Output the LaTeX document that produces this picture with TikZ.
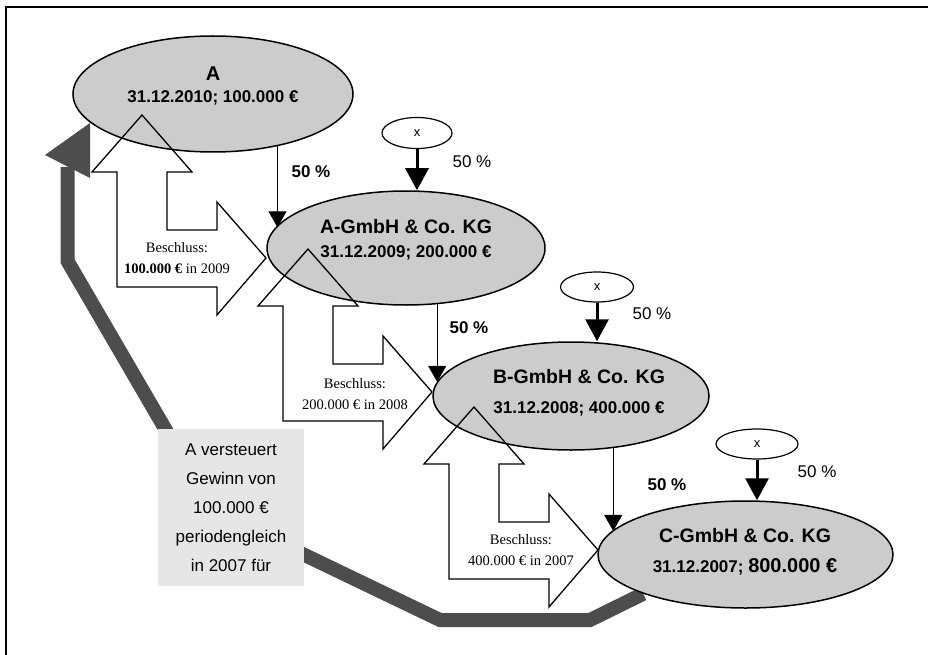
\documentclass[tikz,border=0pt]{standalone}
\usepackage{fontspec}
\setmainfont{Liberation Sans}
\newfontfamily\timesfont{Liberation Serif}
\usepackage{tikz}
\usetikzlibrary{arrows.meta,shapes.geometric,backgrounds}
\definecolor{firmfill}{RGB}{204,204,204}
\definecolor{notefill}{RGB}{230,230,230}
\definecolor{feedbackgray}{RGB}{77,77,77}

\begin{document}
\begin{tikzpicture}[x=1pt, y=-1pt,
  firm/.style={ellipse, draw, fill=firmfill, line width=1.5pt, inner sep=0pt},
  firmtext/.style={align=center, font=\fontsize{17}{#1}\selectfont\bfseries},
  holder/.style={ellipse, draw, fill=white, line width=1.2pt, inner sep=0pt, font=\fontsize{13}{13}\selectfont},
  stake/.style={-{Triangle[width=23pt,length=22pt]}, line width=3pt},
  holding/.style={-{Triangle[width=18pt,length=16pt]}, line width=1pt},
  pctbold/.style={font=\fontsize{17}{17}\selectfont\bfseries},
  pct/.style={font=\fontsize{17}{17}\selectfont},
  decision/.style={draw, line width=1.3pt, line join=miter},
  decisiontext/.style={align=center, font=\timesfont\fontsize{14.5}{21}\selectfont},
  note/.style={fill=notefill, inner sep=0pt, minimum width=146pt, minimum height=157pt, align=center, font=\fontsize{17}{29}\selectfont},
  feedback/.style={draw=feedbackgray, line width=14pt, line join=miter}]

  % Page size and frame
  \useasboundingbox (0,0) rectangle (928,655);
  \draw[line width=2pt] (6,655) -- (6,7) -- (928,7);

  % Companies
  \node[firm, minimum width=280pt, minimum height=116pt] (A) at (213,94) {};
  \node[firm, minimum width=278pt, minimum height=114pt] (AG) at (406,248) {};
  \node[firm, minimum width=276pt, minimum height=108pt] (B) at (571,396) {};
  \node[firm, minimum width=295pt, minimum height=107pt] (C) at (745.5,554.5) {};

  \node[firmtext=22] (A-text) at (213,86) {{\fontsize{20}{20}\selectfont A}\\31.12.2010; 100.000 €};
  \node[firmtext=24] (AG-text) at (406,240) {{\fontsize{19.5}{20}\selectfont A-GmbH \& Co. KG}\\31.12.2009; 200.000 €};
  \node[firmtext=30] (B-text) at (579,393) {{\fontsize{19.5}{20}\selectfont B-GmbH \& Co. KG}\\31.12.2008; 400.000 €};
  \node[firmtext=30] (C-text) at (745,552) {{\fontsize{19.5}{20}\selectfont C-GmbH \& Co. KG}\\31.12.2007; {\fontsize{20}{20}\selectfont 800.000 €}};

  % Other partners
  \node[holder, minimum width=70pt, minimum height=31pt] (x1) at (417,133) {x};
  \node[holder, minimum width=73pt, minimum height=30pt] (x2) at (597,287) {x};
  \node[holder, minimum width=82pt, minimum height=30pt] (x3) at (757,444) {x};

  \draw[stake] (x1.south) -- (x1.south |- AG.north);
  \draw[stake] (x2.south) -- (x2.south |- B.north);
  \draw[stake] (x3.south) -- (x3.south |- C.north);

  \node[pct] (q1) at (472,162) {50 \%};
  \node[pct] (q2) at (652,314) {50 \%};
  \node[pct] (q3) at (817,472) {50 \%};

  % Holdings down the chain
  \draw[holding] (A.-39) -- (A.-39 |- AG.171);
  \draw[holding] (AG.-61) -- (AG.-61 |- B.174.5);
  \draw[holding] (B.-51.5) -- (B.-51.5 |- C.170);

  \node[pctbold] (p1) at (311,172) {50 \%};
  \node[pctbold] (p2) at (469,328) {50 \%};
  \node[pctbold] (p3) at (667,485) {50 \%};

  % Resolutions (hollow bent arrows)
  \foreach \dx/\dy in {0/0,166/134,332/292}
    \draw[decision, shift={(\dx,\dy)}] (142,115) -- (192,172) -- (167,172) -- (167,230)
      -- (217,230) -- (217,202) -- (266,258) -- (217,315) -- (217,287)
      -- (117,287) -- (117,172) -- (92,172) -- cycle;

  \node[decisiontext] (d1) at (177,258) {Beschluss:\\\textbf{100.000 €} in 2009};
  \node[decisiontext] (d2) at (355,394) {Beschluss:\\200.000 € in 2008};
  \node[decisiontext] (d3) at (521,550) {Beschluss:\\400.000 € in 2007};

  % Note box
  \node[note] (note) at (231,507.5) {A versteuert\\Gewinn von\\100.000 €\\periodengleich\\in 2007 für};

  % Feedback arrow back to A
  \begin{scope}[on background layer]
    \coordinate (back-end) at (67.5,167);
    \draw[feedback] (C.201) -- (590,620) -- (440,620) -- (213,511) -- (67.5,261) -- (back-end);
    \fill[feedbackgray] (45,155) -- (90,123) -- (90,178) -- cycle;
  \end{scope}

\end{tikzpicture}
\end{document}
